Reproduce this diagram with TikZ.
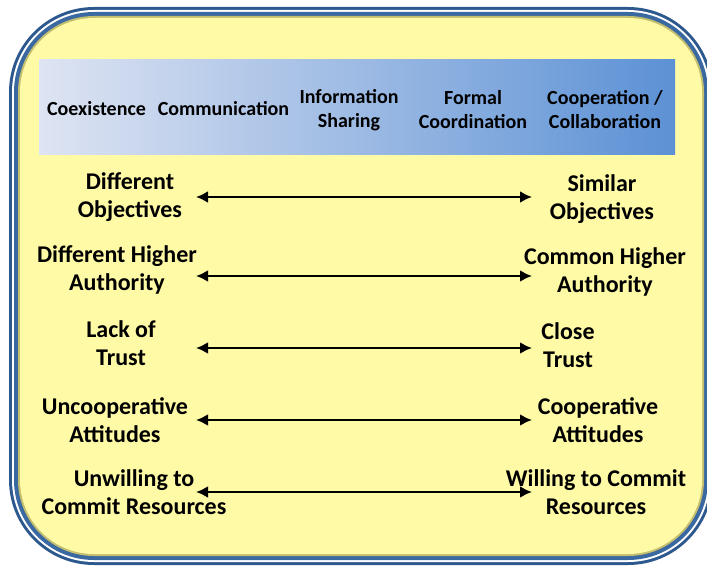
\documentclass[tikz,border=0pt]{standalone}
\usepackage{fontspec}
\setmainfont{Carlito}
\usepackage{tikz}
\usetikzlibrary{arrows.meta,positioning,calc}

\definecolor{framedark}{RGB}{44,88,142}
\definecolor{frameblue}{RGB}{58,104,160}
\definecolor{framekhaki}{RGB}{196,190,112}
\definecolor{panelyellow}{RGB}{255,250,165}
\definecolor{barleft}{RGB}{222,228,242}
\definecolor{barmid}{RGB}{196,211,238}
\definecolor{barright}{RGB}{92,145,213}

\begin{document}
\begin{tikzpicture}[x=1pt,y=-1pt,
    lbl/.style={align=center, font=\fontsize{24}{28}\selectfont\bfseries, inner sep=0pt},
    hdr/.style={align=center, font=\fontsize{20}{24}\selectfont\bfseries, inner sep=0pt},
    link/.style={{Latex[length=12pt,width=12pt]}-{Latex[length=12pt,width=12pt]}, line width=2.9pt}]
    \useasboundingbox (0,0) rectangle (707,567);
    \clip (0,0) rectangle (707,567);

    % Frame (layered rounded boxes)
    \fill[framedark, rounded corners=85pt] (9,7) rectangle (713,565);
    \fill[white, rounded corners=82pt] (12,10) rectangle (710,562);
    \fill[frameblue, rounded corners=80pt] (14,12) rectangle (708,560);
    \fill[framekhaki, rounded corners=76pt] (18,16) rectangle (704,556);
    \fill[panelyellow, rounded corners=74pt] (20,18) rectangle (702,554);

    % Header bar
    \shade[left color=barleft, middle color=barmid, right color=barright] (39,60) rectangle (675,155);

    % Header labels
    \node[hdr] (coexist) at (96.5,109) {Coexistence};
    \node[hdr] (commun) at (223.5,109) {Communication};
    \node[hdr] (infoshare) at (349,110) {Information\\Sharing};
    \node[hdr] (formal) at (473,110) {Formal\\Coordination};
    \node[hdr] (coop) at (605,110) {Cooperation /\\Collaboration};

    % Rows: left label, right label, arrow between them
    \foreach \i/\y/\lx/\ly/\ltxt/\rx/\ry/\rtxt in {
        1/197/130/197/{Different\\Objectives}/602/199/{Similar\\Objectives},
        2/276/117/270/{Different Higher\\Authority}/605/272/{Common Higher\\Authority},
        3/348/121/343/{Lack of\\Trust}/568/345/{Close\\Trust},
        4/420/115/420/{Uncooperative\\Attitudes}/598/420/{Cooperative\\Attitudes},
        5/492/134/492/{Unwilling to\\Commit Resources}/596/492/{Willing to Commit\\Resources}} {
        \node[lbl] (left\i) at (\lx,\ly) {\ltxt};
        \node[lbl] (right\i) at (\rx,\ry) {\rtxt};
        \coordinate (from\i) at (196,\y);
        \coordinate (to\i) at (532,\y);
        \draw[link] (from\i) -- (to\i);
    }
\end{tikzpicture}
\end{document}
